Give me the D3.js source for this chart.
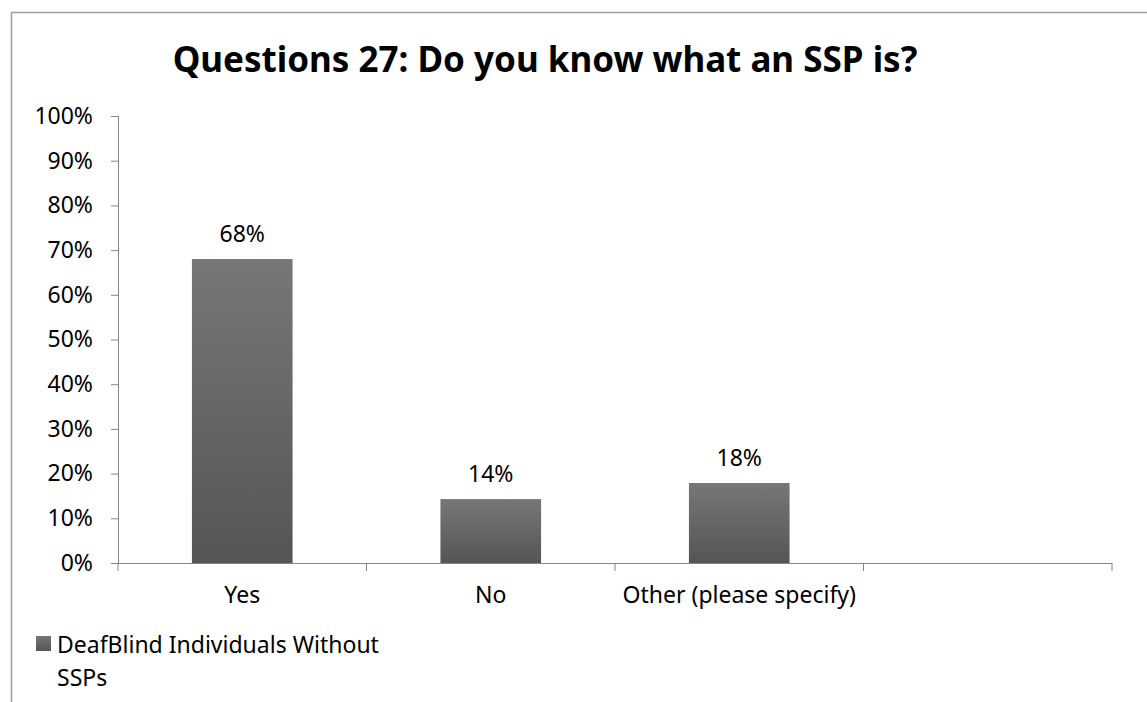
<!DOCTYPE html>
<html lang="en">

<head>
    <meta charset="utf-8">
    <style type="text/css">
        body {
            margin: 0;
            background-color: #fff;
        }

        svg {
            display: block;
            background-color: #fff;
        }

        text {
            font-family: "Noto Sans", "Open Sans", sans-serif;
            fill: #000;
        }
    </style>
    <script src="https://d3js.org/d3.v7.min.js"></script>
    <title>Questions 27</title>
</head>

<body>
    <div id="chart"></div>
    <script type="text/JavaScript">

        //Chart data
        var title = "Questions 27: Do you know what an SSP is?";
        var categories = ["Yes", "No", "Other (please specify)", ""];
        var values = [0.68, 0.143, 0.179];
        var yTicks = [0, 0.1, 0.2, 0.3, 0.4, 0.5, 0.6, 0.7, 0.8, 0.9, 1];
        var seriesName = ["DeafBlind Individuals Without", "SSPs"];

        var width = 1147, height = 702;
        var plot = { left: 118, right: 1112, top: 116, bottom: 563 };
        var labelSize = "23px";

        var svg = d3.select("#chart")
            .append("svg")
            .attr("width", width)
            .attr("height", height);

        //gradient used by the bars and the legend key
        var grad = svg.append("defs").append("linearGradient")
            .attr("id", "barGrad")
            .attr("x1", 0).attr("y1", 0).attr("x2", 0).attr("y2", 1);
        grad.append("stop").attr("offset", "0%").attr("stop-color", "#777777");
        grad.append("stop").attr("offset", "100%").attr("stop-color", "#555555");

        //outer chart border (runs off the picture right and bottom)
        svg.append("rect")
            .attr("x", 11.5).attr("y", 12.5)
            .attr("width", 1200).attr("height", 800)
            .attr("fill", "none")
            .attr("stroke", "#a0a0a0")
            .attr("stroke-width", 1.5);

        svg.append("text")
            .attr("x", 545).attr("y", 58)
            .attr("text-anchor", "middle")
            .attr("dominant-baseline", "central")
            .style("font-size", "35px")
            .style("font-weight", "bold")
            .text(title);

        var x = d3.scaleBand()
            .domain(categories)
            .range([plot.left, plot.right]);

        var y = d3.scaleLinear()
            .domain([0, 1])
            .range([plot.bottom, plot.top]);

        var barW = x.bandwidth() * 0.405;

        //y axis
        var yAxis = svg.append("g")
            .attr("transform", "translate(" + plot.left + ",0)")
            .call(d3.axisLeft(y).tickValues(yTicks).tickFormat(d3.format(".0%")).tickSize(7).tickPadding(18));
        yAxis.select(".domain").attr("stroke", "#868686");
        yAxis.selectAll(".tick line").attr("stroke", "#868686");
        yAxis.selectAll(".tick text")
            .attr("fill", "#000")
            .style("font-size", labelSize)
            .style("font-family", "'Noto Sans', sans-serif");

        //x axis
        var xAxis = svg.append("g")
            .attr("transform", "translate(0," + plot.bottom + ")")
            .call(d3.axisBottom(x).tickSize(0).tickPadding(24).tickSizeOuter(0));
        xAxis.select(".domain").attr("stroke", "#868686");
        xAxis.selectAll(".tick text")
            .attr("fill", "#000")
            .style("font-size", labelSize)
            .style("font-family", "'Noto Sans', sans-serif");

        //category separators on x axis
        var edges = categories.map(function(d) { return x(d); }).concat([plot.right]);
        svg.selectAll(".xsep")
            .data(edges)
            .enter().append("line")
            .attr("class", "xsep")
            .attr("x1", function(d) { return d; })
            .attr("x2", function(d) { return d; })
            .attr("y1", plot.bottom)
            .attr("y2", plot.bottom + 8)
            .attr("stroke", "#868686");

        //bars
        svg.selectAll(".bar")
            .data(values)
            .enter().append("rect")
            .attr("class", "bar")
            .attr("x", function(d, i) { return x(categories[i]) + (x.bandwidth() - barW) / 2; })
            .attr("y", function(d) { return y(d); })
            .attr("width", barW)
            .attr("height", function(d) { return y(0) - y(d); })
            .attr("fill", "url(#barGrad)");

        //value labels
        svg.selectAll(".label")
            .data(values)
            .enter().append("text")
            .attr("class", "label")
            .attr("x", function(d, i) { return x(categories[i]) + x.bandwidth() / 2; })
            .attr("y", function(d) { return y(d) - 26; })
            .attr("text-anchor", "middle")
            .attr("dominant-baseline", "central")
            .style("font-size", labelSize)
            .text(function(d) { return d3.format(".0%")(d); });

        //legend
        svg.append("rect")
            .attr("x", 36).attr("y", 636)
            .attr("width", 15).attr("height", 15)
            .attr("fill", "url(#barGrad)");

        svg.append("g").selectAll("text")
            .data(seriesName)
            .enter().append("text")
            .attr("x", 57)
            .attr("y", function(d, i) { return 644 + i * 33; })
            .attr("dominant-baseline", "central")
            .style("font-size", labelSize)
            .text(function(d) { return d; });

    </script>
</body>

</html>
